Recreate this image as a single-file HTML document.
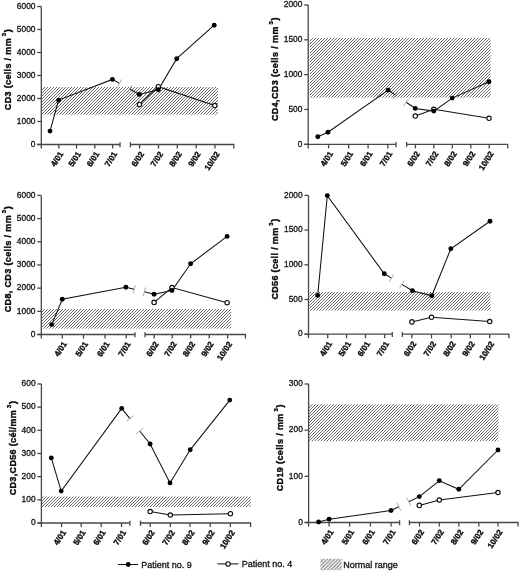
<!DOCTYPE html>
<html><head><meta charset="utf-8"><style>
html,body{margin:0;padding:0;background:#fff;}
svg{display:block;will-change:transform;filter:blur(0.3px);}
text{font-family:"Liberation Sans",sans-serif;fill:#111;}
.yt{font-size:8.4px;text-anchor:end;stroke:#111;stroke-width:0.3px;}
.xt{font-size:8.2px;font-weight:bold;text-anchor:end;stroke:#000;stroke-width:0.35px;}
.tt{font-size:9.0px;font-weight:bold;text-anchor:middle;stroke:#000;stroke-width:0.35px;}
.sup{font-size:5.8px;}
.lg{font-size:9px;stroke:#111;stroke-width:0.3px;}
.ln{stroke:#111;stroke-width:1.05;fill:none;}
.brk{stroke:#999;stroke-width:0.8;fill:none;}
.fp{fill:#000;stroke:none;}
.op{fill:#fff;stroke:#111;stroke-width:1.15;}
</style></head>
<body>
<svg width="520" height="572" viewBox="0 0 520 572">
<defs>
<pattern id="hatch" patternUnits="userSpaceOnUse" width="3" height="3">
<path d="M-1,1L1,-1M0,3L3,0M2,4L4,2" stroke="#6a6a6a" stroke-width="1.0"/>
</pattern>
<pattern id="hatch2" patternUnits="userSpaceOnUse" width="3.6" height="3.6" x="320.4" y="558.8">
<path d="M-1,1L1,-1M0,3.6L3.6,0M2.6,4.6L4.6,2.6" stroke="#6a6a6a" stroke-width="1.0"/>
</pattern>
</defs>
<rect width="520" height="572" fill="#fff"/>
<rect x="41.6" y="87" width="176.4" height="27.6" fill="url(#hatch)"/>
<path d="M41.3,6.5V148.6" stroke="#474747" stroke-width="1.3" fill="none"/>
<path d="M37.3,144.5H41.3" stroke="#474747" stroke-width="1.3"/>
<text x="35.5" y="146.7" class="yt">0</text>
<path d="M37.3,121.5H41.3" stroke="#474747" stroke-width="1.3"/>
<text x="35.5" y="123.7" class="yt">1000</text>
<path d="M37.3,98.5H41.3" stroke="#474747" stroke-width="1.3"/>
<text x="35.5" y="100.7" class="yt">2000</text>
<path d="M37.3,75.5H41.3" stroke="#474747" stroke-width="1.3"/>
<text x="35.5" y="77.7" class="yt">3000</text>
<path d="M37.3,52.5H41.3" stroke="#474747" stroke-width="1.3"/>
<text x="35.5" y="54.7" class="yt">4000</text>
<path d="M37.3,29.5H41.3" stroke="#474747" stroke-width="1.3"/>
<text x="35.5" y="31.7" class="yt">5000</text>
<path d="M37.3,6.5H41.3" stroke="#474747" stroke-width="1.3"/>
<text x="35.5" y="8.7" class="yt">6000</text>
<path d="M37.3,144.5H120" stroke="#474747" stroke-width="1.3" fill="none"/>
<path d="M120,142.2V147.3" stroke="#474747" stroke-width="1.3"/>
<path d="M130.4,142.2V147.3" stroke="#474747" stroke-width="1.3"/>
<path d="M130.4,144.5H233.8V148.6" stroke="#474747" stroke-width="1.3" fill="none"/>
<path d="M58.8,144.5V148.6" stroke="#474747" stroke-width="1.3"/>
<text transform="translate(63.7,153.9) rotate(-57)" class="xt">4/01</text>
<path d="M76.5,144.5V148.6" stroke="#474747" stroke-width="1.3"/>
<text transform="translate(81.4,153.9) rotate(-57)" class="xt">5/01</text>
<path d="M94.8,144.5V148.6" stroke="#474747" stroke-width="1.3"/>
<text transform="translate(99.7,153.9) rotate(-57)" class="xt">6/01</text>
<path d="M112.7,144.5V148.6" stroke="#474747" stroke-width="1.3"/>
<text transform="translate(117.6,153.9) rotate(-57)" class="xt">7/01</text>
<path d="M139.6,144.5V148.6" stroke="#474747" stroke-width="1.3"/>
<text transform="translate(144.5,153.9) rotate(-57)" class="xt">6/02</text>
<path d="M158.5,144.5V148.6" stroke="#474747" stroke-width="1.3"/>
<text transform="translate(163.4,153.9) rotate(-57)" class="xt">7/02</text>
<path d="M177.3,144.5V148.6" stroke="#474747" stroke-width="1.3"/>
<text transform="translate(182.2,153.9) rotate(-57)" class="xt">8/02</text>
<path d="M196.2,144.5V148.6" stroke="#474747" stroke-width="1.3"/>
<text transform="translate(201.1,153.9) rotate(-57)" class="xt">9/02</text>
<path d="M215,144.5V148.6" stroke="#474747" stroke-width="1.3"/>
<text transform="translate(219.9,153.9) rotate(-57)" class="xt">10/02</text>
<path d="M50,131.1 L58.6,100.1 L112.4,79.4 L119.5,83.37" class="ln"/>
<path d="M129.6,89.03 L139.2,94.4 L158.3,89.8 L176.7,58.7 L214.2,25.2" class="ln"/>
<path d="M121.7,79.45L117.3,87.3" class="brk"/>
<path d="M131.8,85.1L127.4,92.95" class="brk"/>
<path d="M139.5,104.4 L158.3,86.7 L214.8,105.6" class="ln"/>
<circle cx="139.5" cy="104.4" r="2.2" class="op"/>
<circle cx="158.3" cy="86.7" r="2.2" class="op"/>
<circle cx="214.8" cy="105.6" r="2.2" class="op"/>
<circle cx="50" cy="131.1" r="2.45" class="fp"/>
<circle cx="58.6" cy="100.1" r="2.45" class="fp"/>
<circle cx="112.4" cy="79.4" r="2.45" class="fp"/>
<circle cx="139.2" cy="94.4" r="2.45" class="fp"/>
<circle cx="158.3" cy="89.8" r="2.45" class="fp"/>
<circle cx="176.7" cy="58.7" r="2.45" class="fp"/>
<circle cx="214.2" cy="25.2" r="2.45" class="fp"/>
<text transform="translate(10.6,69.7) rotate(-90)" class="tt" textLength="81" lengthAdjust="spacing">CD3 (cells / mm<tspan class="sup" dx="1.8" dy="-5.0">3</tspan><tspan dx="0.4" dy="5.0">)</tspan></text>
<rect x="309.8" y="38" width="180.7" height="59.6" fill="url(#hatch)"/>
<path d="M308.2,5V148.4" stroke="#474747" stroke-width="1.3" fill="none"/>
<path d="M304.2,144.3H308.2" stroke="#474747" stroke-width="1.3"/>
<text x="302.4" y="146.5" class="yt">0</text>
<path d="M304.2,109.48H308.2" stroke="#474747" stroke-width="1.3"/>
<text x="302.4" y="111.68" class="yt">500</text>
<path d="M304.2,74.65H308.2" stroke="#474747" stroke-width="1.3"/>
<text x="302.4" y="76.85" class="yt">1000</text>
<path d="M304.2,39.83H308.2" stroke="#474747" stroke-width="1.3"/>
<text x="302.4" y="42.03" class="yt">1500</text>
<path d="M304.2,5H308.2" stroke="#474747" stroke-width="1.3"/>
<text x="302.4" y="7.2" class="yt">2000</text>
<path d="M304.2,144.3H396" stroke="#474747" stroke-width="1.3" fill="none"/>
<path d="M396,142V147.1" stroke="#474747" stroke-width="1.3"/>
<path d="M406.6,142V147.1" stroke="#474747" stroke-width="1.3"/>
<path d="M406.6,144.3H507.7V148.4" stroke="#474747" stroke-width="1.3" fill="none"/>
<path d="M328.6,144.3V148.4" stroke="#474747" stroke-width="1.3"/>
<text transform="translate(333.5,153.7) rotate(-57)" class="xt">4/01</text>
<path d="M348.7,144.3V148.4" stroke="#474747" stroke-width="1.3"/>
<text transform="translate(353.6,153.7) rotate(-57)" class="xt">5/01</text>
<path d="M368.1,144.3V148.4" stroke="#474747" stroke-width="1.3"/>
<text transform="translate(373,153.7) rotate(-57)" class="xt">6/01</text>
<path d="M387.8,144.3V148.4" stroke="#474747" stroke-width="1.3"/>
<text transform="translate(392.7,153.7) rotate(-57)" class="xt">7/01</text>
<path d="M415.4,144.3V148.4" stroke="#474747" stroke-width="1.3"/>
<text transform="translate(420.3,153.7) rotate(-57)" class="xt">6/02</text>
<path d="M433.8,144.3V148.4" stroke="#474747" stroke-width="1.3"/>
<text transform="translate(438.7,153.7) rotate(-57)" class="xt">7/02</text>
<path d="M452.3,144.3V148.4" stroke="#474747" stroke-width="1.3"/>
<text transform="translate(457.2,153.7) rotate(-57)" class="xt">8/02</text>
<path d="M470.8,144.3V148.4" stroke="#474747" stroke-width="1.3"/>
<text transform="translate(475.7,153.7) rotate(-57)" class="xt">9/02</text>
<path d="M489.2,144.3V148.4" stroke="#474747" stroke-width="1.3"/>
<text transform="translate(494.1,153.7) rotate(-57)" class="xt">10/02</text>
<path d="M317.8,136.7 L328,132.3 L388.1,90.1 L395.5,95.08" class="ln"/>
<path d="M406.2,102.28 L415.3,108.4 L433.8,111.1 L452.2,98.1 L489,81.7" class="ln"/>
<path d="M398.01,91.35L392.99,98.81" class="brk"/>
<path d="M408.71,98.54L403.69,106.01" class="brk"/>
<path d="M415.3,116 L433.8,109.3 L489,118.3" class="ln"/>
<circle cx="415.3" cy="116" r="2.2" class="op"/>
<circle cx="433.8" cy="109.3" r="2.2" class="op"/>
<circle cx="489" cy="118.3" r="2.2" class="op"/>
<circle cx="317.8" cy="136.7" r="2.45" class="fp"/>
<circle cx="328" cy="132.3" r="2.45" class="fp"/>
<circle cx="388.1" cy="90.1" r="2.45" class="fp"/>
<circle cx="415.3" cy="108.4" r="2.45" class="fp"/>
<circle cx="433.8" cy="111.1" r="2.45" class="fp"/>
<circle cx="452.2" cy="98.1" r="2.45" class="fp"/>
<circle cx="489" cy="81.7" r="2.45" class="fp"/>
<text transform="translate(277.5,69.25) rotate(-90)" class="tt" textLength="103.7" lengthAdjust="spacing">CD4,CD3 (cells / mm<tspan class="sup" dx="1.8" dy="-5.0">3</tspan><tspan dx="0.4" dy="5.0">)</tspan></text>
<rect x="41.6" y="309" width="189.5" height="19.6" fill="url(#hatch)"/>
<path d="M41.3,195.4V338.6" stroke="#474747" stroke-width="1.3" fill="none"/>
<path d="M37.3,334.5H41.3" stroke="#474747" stroke-width="1.3"/>
<text x="35.5" y="336.7" class="yt">0</text>
<path d="M37.3,311.32H41.3" stroke="#474747" stroke-width="1.3"/>
<text x="35.5" y="313.52" class="yt">1000</text>
<path d="M37.3,288.13H41.3" stroke="#474747" stroke-width="1.3"/>
<text x="35.5" y="290.33" class="yt">2000</text>
<path d="M37.3,264.95H41.3" stroke="#474747" stroke-width="1.3"/>
<text x="35.5" y="267.15" class="yt">3000</text>
<path d="M37.3,241.77H41.3" stroke="#474747" stroke-width="1.3"/>
<text x="35.5" y="243.97" class="yt">4000</text>
<path d="M37.3,218.58H41.3" stroke="#474747" stroke-width="1.3"/>
<text x="35.5" y="220.78" class="yt">5000</text>
<path d="M37.3,195.4H41.3" stroke="#474747" stroke-width="1.3"/>
<text x="35.5" y="197.6" class="yt">6000</text>
<path d="M37.3,334.5H135" stroke="#474747" stroke-width="1.3" fill="none"/>
<path d="M135,332.2V337.3" stroke="#474747" stroke-width="1.3"/>
<path d="M145,332.2V337.3" stroke="#474747" stroke-width="1.3"/>
<path d="M145,334.5H245.4V338.6" stroke="#474747" stroke-width="1.3" fill="none"/>
<path d="M62.3,334.5V338.6" stroke="#474747" stroke-width="1.3"/>
<text transform="translate(67.2,343.9) rotate(-57)" class="xt">4/01</text>
<path d="M83.5,334.5V338.6" stroke="#474747" stroke-width="1.3"/>
<text transform="translate(88.4,343.9) rotate(-57)" class="xt">5/01</text>
<path d="M105,334.5V338.6" stroke="#474747" stroke-width="1.3"/>
<text transform="translate(109.9,343.9) rotate(-57)" class="xt">6/01</text>
<path d="M126.2,334.5V338.6" stroke="#474747" stroke-width="1.3"/>
<text transform="translate(131.1,343.9) rotate(-57)" class="xt">7/01</text>
<path d="M154.2,334.5V338.6" stroke="#474747" stroke-width="1.3"/>
<text transform="translate(159.1,343.9) rotate(-57)" class="xt">6/02</text>
<path d="M172.2,334.5V338.6" stroke="#474747" stroke-width="1.3"/>
<text transform="translate(177.1,343.9) rotate(-57)" class="xt">7/02</text>
<path d="M190.7,334.5V338.6" stroke="#474747" stroke-width="1.3"/>
<text transform="translate(195.6,343.9) rotate(-57)" class="xt">8/02</text>
<path d="M209.2,334.5V338.6" stroke="#474747" stroke-width="1.3"/>
<text transform="translate(214.1,343.9) rotate(-57)" class="xt">9/02</text>
<path d="M227.6,334.5V338.6" stroke="#474747" stroke-width="1.3"/>
<text transform="translate(232.5,343.9) rotate(-57)" class="xt">10/02</text>
<path d="M51.7,324.6 L62.3,299.2 L125.9,287.3 L134.2,289.33" class="ln"/>
<path d="M144.4,291.83 L154.1,294.2 L172,290.5 L190.6,263.8 L227.1,236.4" class="ln"/>
<path d="M135.27,284.96L133.13,293.7" class="brk"/>
<path d="M145.47,287.46L143.33,296.2" class="brk"/>
<path d="M154.1,302.4 L172,287.5 L227.1,302.7" class="ln"/>
<circle cx="154.1" cy="302.4" r="2.2" class="op"/>
<circle cx="172" cy="287.5" r="2.2" class="op"/>
<circle cx="227.1" cy="302.7" r="2.2" class="op"/>
<circle cx="51.7" cy="324.6" r="2.45" class="fp"/>
<circle cx="62.3" cy="299.2" r="2.45" class="fp"/>
<circle cx="125.9" cy="287.3" r="2.45" class="fp"/>
<circle cx="154.1" cy="294.2" r="2.45" class="fp"/>
<circle cx="172" cy="290.5" r="2.45" class="fp"/>
<circle cx="190.6" cy="263.8" r="2.45" class="fp"/>
<circle cx="227.1" cy="236.4" r="2.45" class="fp"/>
<text transform="translate(10.6,259.25) rotate(-90)" class="tt" textLength="106.1" lengthAdjust="spacing">CD8, CD3 (cells / mm<tspan class="sup" dx="1.8" dy="-5.0">3</tspan><tspan dx="0.4" dy="5.0">)</tspan></text>
<rect x="309.6" y="292" width="180.8" height="18.6" fill="url(#hatch)"/>
<path d="M308.5,195.4V338.3" stroke="#474747" stroke-width="1.3" fill="none"/>
<path d="M304.5,334.2H308.5" stroke="#474747" stroke-width="1.3"/>
<text x="302.7" y="336.4" class="yt">0</text>
<path d="M304.5,299.5H308.5" stroke="#474747" stroke-width="1.3"/>
<text x="302.7" y="301.7" class="yt">500</text>
<path d="M304.5,264.8H308.5" stroke="#474747" stroke-width="1.3"/>
<text x="302.7" y="267" class="yt">1000</text>
<path d="M304.5,230.1H308.5" stroke="#474747" stroke-width="1.3"/>
<text x="302.7" y="232.3" class="yt">1500</text>
<path d="M304.5,195.4H308.5" stroke="#474747" stroke-width="1.3"/>
<text x="302.7" y="197.6" class="yt">2000</text>
<path d="M304.5,334.2H392.3" stroke="#474747" stroke-width="1.3" fill="none"/>
<path d="M392.3,331.9V337" stroke="#474747" stroke-width="1.3"/>
<path d="M402.3,331.9V337" stroke="#474747" stroke-width="1.3"/>
<path d="M402.3,334.2H508.9V338.3" stroke="#474747" stroke-width="1.3" fill="none"/>
<path d="M327.7,334.2V338.3" stroke="#474747" stroke-width="1.3"/>
<text transform="translate(332.6,343.6) rotate(-57)" class="xt">4/01</text>
<path d="M346.6,334.2V338.3" stroke="#474747" stroke-width="1.3"/>
<text transform="translate(351.5,343.6) rotate(-57)" class="xt">5/01</text>
<path d="M365.5,334.2V338.3" stroke="#474747" stroke-width="1.3"/>
<text transform="translate(370.4,343.6) rotate(-57)" class="xt">6/01</text>
<path d="M384.7,334.2V338.3" stroke="#474747" stroke-width="1.3"/>
<text transform="translate(389.6,343.6) rotate(-57)" class="xt">7/01</text>
<path d="M411.9,334.2V338.3" stroke="#474747" stroke-width="1.3"/>
<text transform="translate(416.8,343.6) rotate(-57)" class="xt">6/02</text>
<path d="M431.5,334.2V338.3" stroke="#474747" stroke-width="1.3"/>
<text transform="translate(436.4,343.6) rotate(-57)" class="xt">7/02</text>
<path d="M451.2,334.2V338.3" stroke="#474747" stroke-width="1.3"/>
<text transform="translate(456.1,343.6) rotate(-57)" class="xt">8/02</text>
<path d="M470.3,334.2V338.3" stroke="#474747" stroke-width="1.3"/>
<text transform="translate(475.2,343.6) rotate(-57)" class="xt">9/02</text>
<path d="M489.7,334.2V338.3" stroke="#474747" stroke-width="1.3"/>
<text transform="translate(494.6,343.6) rotate(-57)" class="xt">10/02</text>
<path d="M317.7,295.4 L327.3,195.6 L384.3,273.8 L391.5,278.13" class="ln"/>
<path d="M401.9,284.39 L412.4,290.7 L431.8,295.8 L450.8,248.8 L490,221.3" class="ln"/>
<path d="M393.82,274.27L389.18,281.99" class="brk"/>
<path d="M404.22,280.53L399.58,288.24" class="brk"/>
<path d="M411.9,321.9 L431.5,317.3 L489.7,321.5" class="ln"/>
<circle cx="411.9" cy="321.9" r="2.2" class="op"/>
<circle cx="431.5" cy="317.3" r="2.2" class="op"/>
<circle cx="489.7" cy="321.5" r="2.2" class="op"/>
<circle cx="317.7" cy="295.4" r="2.45" class="fp"/>
<circle cx="327.3" cy="195.6" r="2.45" class="fp"/>
<circle cx="384.3" cy="273.8" r="2.45" class="fp"/>
<circle cx="412.4" cy="290.7" r="2.45" class="fp"/>
<circle cx="431.8" cy="295.8" r="2.45" class="fp"/>
<circle cx="450.8" cy="248.8" r="2.45" class="fp"/>
<circle cx="490" cy="221.3" r="2.45" class="fp"/>
<text transform="translate(277.7,259.15) rotate(-90)" class="tt" textLength="80.9" lengthAdjust="spacing">CD56 (cell / mm<tspan class="sup" dx="1.8" dy="-5.0">3</tspan><tspan dx="0.4" dy="5.0">)</tspan></text>
<rect x="41.8" y="496.5" width="208.8" height="10.5" fill="url(#hatch)"/>
<path d="M41.4,384V527.1" stroke="#474747" stroke-width="1.3" fill="none"/>
<path d="M37.4,523H41.4" stroke="#474747" stroke-width="1.3"/>
<text x="35.6" y="525.2" class="yt">0</text>
<path d="M37.4,499.83H41.4" stroke="#474747" stroke-width="1.3"/>
<text x="35.6" y="502.03" class="yt">100</text>
<path d="M37.4,476.67H41.4" stroke="#474747" stroke-width="1.3"/>
<text x="35.6" y="478.87" class="yt">200</text>
<path d="M37.4,453.5H41.4" stroke="#474747" stroke-width="1.3"/>
<text x="35.6" y="455.7" class="yt">300</text>
<path d="M37.4,430.33H41.4" stroke="#474747" stroke-width="1.3"/>
<text x="35.6" y="432.53" class="yt">400</text>
<path d="M37.4,407.17H41.4" stroke="#474747" stroke-width="1.3"/>
<text x="35.6" y="409.37" class="yt">500</text>
<path d="M37.4,384H41.4" stroke="#474747" stroke-width="1.3"/>
<text x="35.6" y="386.2" class="yt">600</text>
<path d="M37.4,523H129.9" stroke="#474747" stroke-width="1.3" fill="none"/>
<path d="M129.9,520.7V525.8" stroke="#474747" stroke-width="1.3"/>
<path d="M140.5,520.7V525.8" stroke="#474747" stroke-width="1.3"/>
<path d="M140.5,523H250.6V527.1" stroke="#474747" stroke-width="1.3" fill="none"/>
<path d="M61.5,523V527.1" stroke="#474747" stroke-width="1.3"/>
<text transform="translate(66.4,532.4) rotate(-57)" class="xt">4/01</text>
<path d="M81.2,523V527.1" stroke="#474747" stroke-width="1.3"/>
<text transform="translate(86.1,532.4) rotate(-57)" class="xt">5/01</text>
<path d="M101.2,523V527.1" stroke="#474747" stroke-width="1.3"/>
<text transform="translate(106.1,532.4) rotate(-57)" class="xt">6/01</text>
<path d="M121.5,523V527.1" stroke="#474747" stroke-width="1.3"/>
<text transform="translate(126.4,532.4) rotate(-57)" class="xt">7/01</text>
<path d="M150.2,523V527.1" stroke="#474747" stroke-width="1.3"/>
<text transform="translate(155.1,532.4) rotate(-57)" class="xt">6/02</text>
<path d="M170.3,523V527.1" stroke="#474747" stroke-width="1.3"/>
<text transform="translate(175.2,532.4) rotate(-57)" class="xt">7/02</text>
<path d="M190,523V527.1" stroke="#474747" stroke-width="1.3"/>
<text transform="translate(194.9,532.4) rotate(-57)" class="xt">8/02</text>
<path d="M210.2,523V527.1" stroke="#474747" stroke-width="1.3"/>
<text transform="translate(215.1,532.4) rotate(-57)" class="xt">9/02</text>
<path d="M230.4,523V527.1" stroke="#474747" stroke-width="1.3"/>
<text transform="translate(235.3,532.4) rotate(-57)" class="xt">10/02</text>
<path d="M51.3,457.9 L61.2,491.1 L121.7,408.4 L129.9,418.68" class="ln"/>
<path d="M139.7,430.96 L150.1,444 L170,482.9 L190.2,449.8 L229.8,400.1" class="ln"/>
<path d="M133.42,415.87L126.38,421.49" class="brk"/>
<path d="M143.22,428.16L136.18,433.77" class="brk"/>
<path d="M150.2,511.5 L170.3,515 L230.4,513.7" class="ln"/>
<circle cx="150.2" cy="511.5" r="2.2" class="op"/>
<circle cx="170.3" cy="515" r="2.2" class="op"/>
<circle cx="230.4" cy="513.7" r="2.2" class="op"/>
<circle cx="51.3" cy="457.9" r="2.45" class="fp"/>
<circle cx="61.2" cy="491.1" r="2.45" class="fp"/>
<circle cx="121.7" cy="408.4" r="2.45" class="fp"/>
<circle cx="150.1" cy="444" r="2.45" class="fp"/>
<circle cx="170" cy="482.9" r="2.45" class="fp"/>
<circle cx="190.2" cy="449.8" r="2.45" class="fp"/>
<circle cx="229.8" cy="400.1" r="2.45" class="fp"/>
<text transform="translate(15.5,448.2) rotate(-90)" class="tt" textLength="94.2" lengthAdjust="spacing">CD3,CD56 (cél/mm<tspan class="sup" dx="1.8" dy="-5.0">3</tspan><tspan dx="0.4" dy="5.0">)</tspan></text>
<rect x="309" y="404.3" width="189.4" height="36.9" fill="url(#hatch)"/>
<path d="M308.6,384V526.6" stroke="#474747" stroke-width="1.3" fill="none"/>
<path d="M304.6,522.5H308.6" stroke="#474747" stroke-width="1.3"/>
<text x="302.8" y="524.7" class="yt">0</text>
<path d="M304.6,476.33H308.6" stroke="#474747" stroke-width="1.3"/>
<text x="302.8" y="478.53" class="yt">100</text>
<path d="M304.6,430.17H308.6" stroke="#474747" stroke-width="1.3"/>
<text x="302.8" y="432.37" class="yt">200</text>
<path d="M304.6,384H308.6" stroke="#474747" stroke-width="1.3"/>
<text x="302.8" y="386.2" class="yt">300</text>
<path d="M304.6,522.5H399.6" stroke="#474747" stroke-width="1.3" fill="none"/>
<path d="M399.6,520.2V525.3" stroke="#474747" stroke-width="1.3"/>
<path d="M409.4,520.2V525.3" stroke="#474747" stroke-width="1.3"/>
<path d="M409.4,522.5H518V526.6" stroke="#474747" stroke-width="1.3" fill="none"/>
<path d="M329.1,522.5V526.6" stroke="#474747" stroke-width="1.3"/>
<text transform="translate(334,531.9) rotate(-57)" class="xt">4/01</text>
<path d="M349.7,522.5V526.6" stroke="#474747" stroke-width="1.3"/>
<text transform="translate(354.6,531.9) rotate(-57)" class="xt">5/01</text>
<path d="M370.4,522.5V526.6" stroke="#474747" stroke-width="1.3"/>
<text transform="translate(375.3,531.9) rotate(-57)" class="xt">6/01</text>
<path d="M391.1,522.5V526.6" stroke="#474747" stroke-width="1.3"/>
<text transform="translate(396,531.9) rotate(-57)" class="xt">7/01</text>
<path d="M419.5,522.5V526.6" stroke="#474747" stroke-width="1.3"/>
<text transform="translate(424.4,531.9) rotate(-57)" class="xt">6/02</text>
<path d="M439.3,522.5V526.6" stroke="#474747" stroke-width="1.3"/>
<text transform="translate(444.2,531.9) rotate(-57)" class="xt">7/02</text>
<path d="M458.8,522.5V526.6" stroke="#474747" stroke-width="1.3"/>
<text transform="translate(463.7,531.9) rotate(-57)" class="xt">8/02</text>
<path d="M478.8,522.5V526.6" stroke="#474747" stroke-width="1.3"/>
<text transform="translate(483.7,531.9) rotate(-57)" class="xt">9/02</text>
<path d="M498,522.5V526.6" stroke="#474747" stroke-width="1.3"/>
<text transform="translate(502.9,531.9) rotate(-57)" class="xt">10/02</text>
<path d="M318.6,522 L329.1,519.3 L391,510.5 L398.75,506.69" class="ln"/>
<path d="M408.8,501.76 L419.3,496.6 L439.3,480.8 L458.8,489.3 L498,450" class="ln"/>
<path d="M396.77,502.65L400.73,510.73" class="brk"/>
<path d="M406.82,497.72L410.78,505.8" class="brk"/>
<path d="M419.3,505.4 L439.3,500 L498,492.5" class="ln"/>
<circle cx="419.3" cy="505.4" r="2.2" class="op"/>
<circle cx="439.3" cy="500" r="2.2" class="op"/>
<circle cx="498" cy="492.5" r="2.2" class="op"/>
<circle cx="318.6" cy="522" r="2.45" class="fp"/>
<circle cx="329.1" cy="519.3" r="2.45" class="fp"/>
<circle cx="391" cy="510.5" r="2.45" class="fp"/>
<circle cx="419.3" cy="496.6" r="2.45" class="fp"/>
<circle cx="439.3" cy="480.8" r="2.45" class="fp"/>
<circle cx="458.8" cy="489.3" r="2.45" class="fp"/>
<circle cx="498" cy="450" r="2.45" class="fp"/>
<text transform="translate(282.5,447.9) rotate(-90)" class="tt" textLength="86.8" lengthAdjust="spacing">CD19 (cells / mm<tspan class="sup" dx="1.8" dy="-5.0">3</tspan><tspan dx="0.4" dy="5.0">)</tspan></text>
<path d="M118,564.5H138" class="ln"/>
<circle cx="128.2" cy="564.5" r="2.45" class="fp"/>
<text x="141.2" y="567.8" class="lg">Patient no. 9</text>
<path d="M217.5,563.9H238.4" class="ln"/>
<circle cx="228.1" cy="563.9" r="2.2" class="op"/>
<text x="241.8" y="567.3" class="lg">Patient no. 4</text>
<rect x="320.4" y="558.8" width="21.3" height="11.4" fill="url(#hatch2)"/>
<text x="343.2" y="567.6" class="lg">Normal range</text>
</svg>
</body></html>
